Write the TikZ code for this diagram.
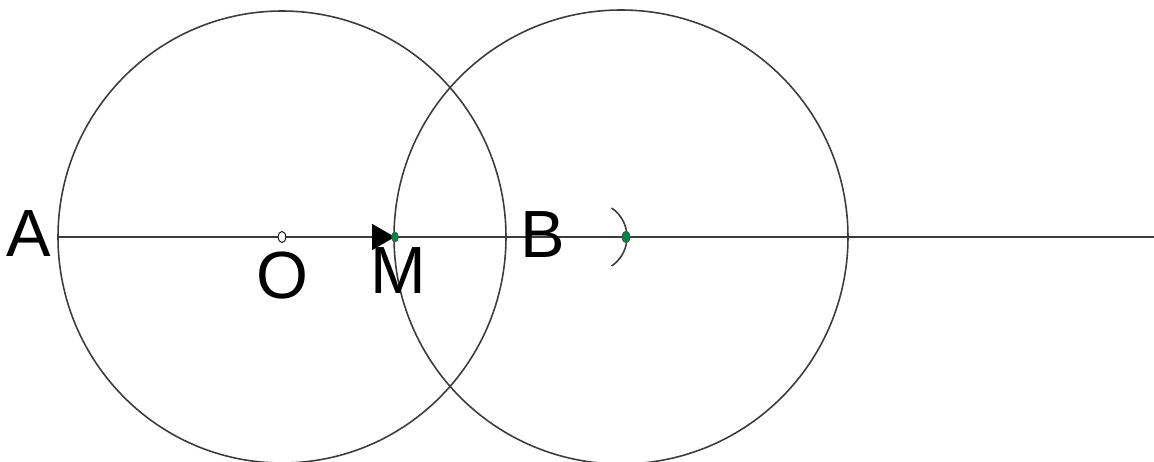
\documentclass[tikz,border=0pt]{standalone}
\usepackage{fontspec}
\setmainfont{Liberation Sans}
\usetikzlibrary{calc}
\usetikzlibrary{arrows.meta}

\definecolor{linegray}{RGB}{60,60,60}
\definecolor{dotgreen}{RGB}{0,135,70}

\tikzset{
    construct/.style={draw=linegray, line width=0.9pt},
    label/.style={font=\fontsize{38}{40}\selectfont, text=black, inner sep=0pt},
    greendot/.style={draw=black!70, fill=dotgreen, line width=0.3pt},
}

\begin{document}
\begin{tikzpicture}[x=0.02cm, y=-0.02cm]
    \useasboundingbox (0,0) rectangle (1154,462);

    % Define the points on the line
    \coordinate[] (A) at (58,237);
    \coordinate[] (O) at (282,237);
    \coordinate[] (M) at (395,237);
    \coordinate[] (P) at (626,237);
    \coordinate[] (C) at (621,237);
    \coordinate[] (E) at (1154,237);

    % Draw the line and the two circles
    \draw[construct] (A) -- (E);
    \draw[construct] (O) ellipse (224 and 226);
    \draw[construct] (C) circle (227);

    % Draw the arc through the second point
    \draw[construct] ($(P)+(-34,0)$) ++(-56:35) arc (-56:56:35);

    % Draw the arrow into M
    \draw[construct, -{Triangle[length=0.46cm, width=0.52cm, color=black]}] (O) -- (M);

    % Draw the marked points
    \draw[black, line width=0.5pt, fill=white] (O) ellipse (4 and 5.5);
    \fill[greendot] (M) ellipse (3.5 and 5);
    \fill[greendot] (P) ellipse (4 and 6);

    % Labels
    \node[label] (lA) at (29,234) {A};
    \node[label] (lO) at (282,276) {O};
    \node[label] (lM) at (398,271) {M};
    \node[label] (lB) at (543,235) {B};
\end{tikzpicture}
\end{document}
